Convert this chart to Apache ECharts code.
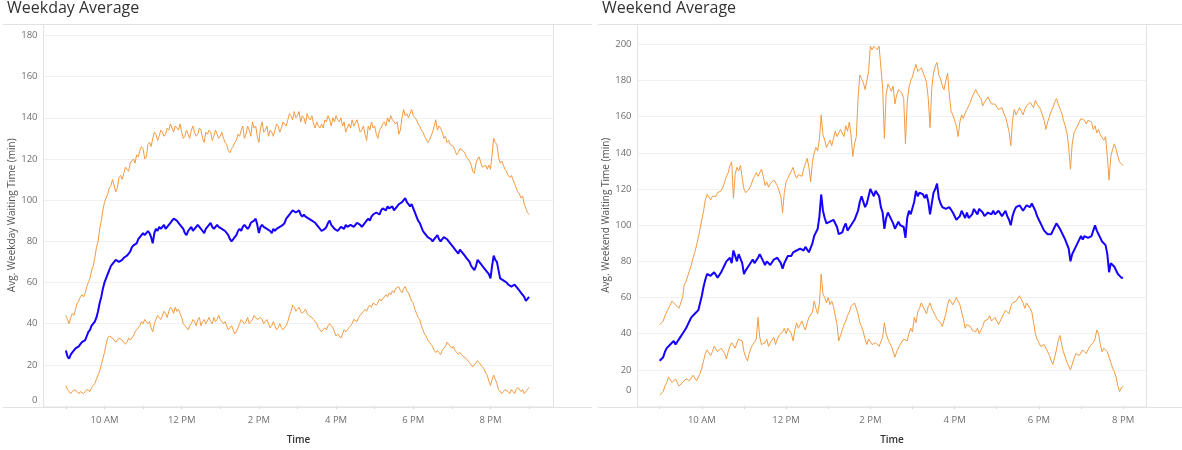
<!DOCTYPE html>
<html>
<head>
<meta charset="utf-8">
<script src="https://cdn.jsdelivr.net/npm/echarts@6/dist/echarts.min.js"></script>
<style>
  html, body { margin: 0; padding: 0; background: #ffffff; }
  #chart { width: 1182px; height: 450px; }
</style>
</head>
<body>
<div id="chart"></div>
<script>
// Average waiting time through the day, one value every 2.5 minutes
// (one row per hour). Mean in blue, upper and lower band in orange.
const stepMinutes = 2.5;
const weekdayStartHour = 9;   // 9:00 AM .. 9:00 PM
const weekendStartHour = 9;   // 9:00 AM .. 8:00 PM

const weekdayUpper = [
  44, 42, 40, 43, 45, 44, 47, 50, 51, 53, 54, 53, 55, 58, 60, 62, 66, 68, 72, 77, 80, 86, 90, 95,
  99, 101, 103, 106, 107, 110, 110, 104, 106, 111, 112, 110, 113, 116, 115, 114, 118, 119, 120, 118, 122, 121, 124, 126,
  125, 120, 121, 127, 128, 126, 130, 133, 132, 129, 131, 134, 133, 131, 132, 135, 134, 137, 135, 133, 136, 135, 134, 137,
  133, 130, 131, 134, 132, 130, 134, 136, 133, 131, 132, 135, 134, 130, 128, 133, 132, 134, 133, 129, 131, 134, 132, 130,
  131, 133, 130, 128, 127, 124, 123, 125, 126, 128, 129, 132, 131, 134, 136, 130, 132, 136, 134, 131, 138, 135, 136, 131,
  128, 135, 138, 133, 134, 136, 131, 134, 133, 131, 134, 137, 136, 133, 135, 138, 138, 136, 139, 142, 141, 139, 143, 140,
  141, 143, 138, 141, 140, 137, 142, 140, 139, 141, 137, 135, 138, 136, 135, 137, 135, 139, 138, 141, 139, 136, 140, 138,
  141, 139, 138, 140, 136, 138, 133, 135, 137, 135, 139, 136, 136, 139, 136, 133, 134, 136, 132, 129, 136, 134, 138, 135,
  136, 132, 130, 134, 135, 137, 138, 136, 140, 138, 141, 139, 139, 137, 138, 132, 134, 140, 144, 141, 142, 140, 142, 144,
  141, 140, 139, 137, 136, 134, 133, 131, 131, 128, 129, 131, 133, 136, 139, 134, 136, 135, 133, 130, 131, 128, 129, 127,
  127, 126, 124, 122, 123, 125, 125, 124, 123, 121, 121, 119, 117, 114, 113, 118, 120, 121, 118, 116, 116, 117, 115, 117,
  115, 122, 130, 128, 127, 121, 118, 119, 117, 115, 114, 112, 111, 112, 110, 108, 106, 104, 103, 101, 102, 98, 96, 94,
  93
];
const weekdayMean = [
  27, 24, 23, 25, 26, 27, 28, 28, 29, 30, 31, 31, 32, 34, 36, 37, 39, 40, 41, 43, 46, 50, 53, 57,
  60, 62, 64, 66, 68, 69, 70, 71, 71, 70, 70, 71, 72, 72, 73, 74, 75, 77, 78, 78, 79, 81, 82, 83,
  84, 83, 83, 85, 84, 82, 79, 84, 86, 85, 87, 86, 87, 88, 86, 87, 88, 89, 90, 91, 91, 90, 89, 88,
  88, 86, 84, 83, 85, 86, 87, 85, 86, 87, 88, 87, 86, 85, 84, 86, 87, 88, 89, 87, 86, 87, 88, 87,
  87, 86, 86, 85, 85, 83, 81, 80, 80, 82, 83, 85, 86, 85, 87, 88, 88, 86, 87, 89, 89, 90, 91, 88,
  84, 87, 88, 87, 87, 86, 86, 85, 84, 86, 85, 86, 86, 87, 87, 88, 89, 91, 92, 93, 94, 95, 95, 94,
  94, 95, 93, 92, 93, 92, 92, 91, 91, 90, 90, 89, 88, 87, 86, 85, 85, 86, 87, 89, 90, 88, 87, 86,
  86, 85, 86, 87, 87, 86, 88, 87, 87, 88, 88, 87, 88, 89, 89, 88, 87, 88, 88, 90, 91, 90, 92, 93,
  93, 94, 94, 93, 95, 96, 96, 95, 97, 96, 96, 97, 95, 96, 97, 98, 98, 99, 100, 101, 99, 98, 97, 98,
  96, 94, 92, 90, 89, 87, 85, 84, 83, 82, 82, 81, 80, 81, 82, 83, 81, 80, 81, 82, 82, 81, 80, 79,
  78, 77, 76, 75, 74, 76, 75, 74, 73, 72, 71, 70, 68, 67, 66, 68, 71, 70, 69, 68, 67, 66, 65, 64,
  62, 68, 73, 71, 70, 66, 62, 62, 61, 61, 60, 59, 59, 58, 58, 59, 58, 57, 56, 55, 55, 53, 51, 52,
  53
];
const weekdayLower = [
  10, 8, 7, 6, 7, 8, 8, 7, 6, 7, 7, 6, 7, 8, 8, 7, 9, 10, 11, 13, 15, 17, 20, 23,
  26, 30, 33, 34, 34, 33, 33, 31, 32, 33, 33, 32, 32, 30, 31, 33, 32, 33, 34, 36, 37, 38, 39, 41,
  40, 42, 42, 40, 41, 38, 36, 40, 42, 44, 43, 42, 44, 46, 45, 43, 46, 48, 47, 45, 48, 46, 47, 45,
  43, 40, 39, 38, 37, 39, 40, 42, 41, 39, 42, 43, 39, 41, 42, 40, 40, 43, 41, 40, 43, 41, 42, 44,
  42, 41, 40, 41, 39, 37, 38, 39, 37, 35, 36, 38, 40, 42, 42, 40, 41, 43, 40, 41, 42, 44, 44, 42,
  42, 43, 42, 40, 41, 42, 40, 38, 39, 41, 39, 37, 38, 40, 38, 37, 37, 39, 41, 44, 46, 49, 48, 46,
  47, 48, 46, 45, 46, 47, 45, 44, 44, 43, 42, 41, 40, 38, 37, 36, 36, 38, 37, 39, 40, 39, 38, 36,
  34, 35, 34, 33, 35, 37, 36, 37, 38, 39, 40, 42, 42, 41, 43, 44, 44, 46, 47, 46, 48, 49, 48, 50,
  50, 49, 50, 52, 51, 52, 53, 54, 53, 55, 54, 56, 55, 57, 57, 58, 56, 55, 57, 58, 56, 55, 53, 51,
  50, 47, 45, 43, 42, 39, 37, 35, 34, 32, 31, 30, 29, 27, 26, 27, 26, 25, 27, 28, 29, 31, 30, 29,
  28, 29, 27, 26, 25, 26, 25, 24, 24, 23, 22, 21, 20, 19, 20, 21, 22, 21, 21, 19, 18, 16, 15, 12,
  10, 13, 15, 13, 11, 8, 7, 6, 7, 8, 8, 7, 6, 8, 7, 6, 8, 9, 9, 7, 8, 6, 7, 8,
  9
];

const weekendUpper = [
  45, 44, 47, 50, 52, 54, 55, 58, 58, 56, 57, 54, 53, 60, 67, 69, 72, 75, 78, 82, 85, 89, 93, 98,
  103, 108, 114, 117, 116, 114, 116, 115, 116, 118, 117, 119, 121, 124, 127, 129, 133, 135, 115, 128, 132, 130, 133, 126,
  120, 118, 117, 120, 122, 125, 127, 129, 127, 128, 131, 127, 122, 124, 121, 123, 122, 125, 124, 122, 122, 116, 107, 118,
  124, 126, 127, 130, 132, 128, 126, 128, 129, 127, 131, 134, 137, 132, 124, 135, 140, 143, 141, 148, 161, 150, 147, 143,
  145, 147, 144, 148, 152, 149, 150, 153, 151, 149, 155, 152, 157, 150, 138, 145, 149, 170, 183, 181, 179, 175, 174, 185,
  199, 197, 199, 200, 197, 199, 200, 176, 148, 172, 178, 176, 174, 177, 167, 172, 175, 176, 173, 170, 145, 168, 176, 180,
  182, 186, 189, 185, 184, 187, 186, 182, 179, 170, 154, 176, 184, 188, 190, 183, 181, 177, 175, 180, 184, 172, 163, 161,
  160, 155, 149, 157, 161, 159, 162, 164, 166, 168, 171, 172, 175, 173, 174, 170, 166, 168, 169, 171, 170, 167, 168, 167,
  166, 164, 163, 165, 162, 160, 159, 152, 144, 158, 164, 161, 163, 165, 163, 161, 164, 166, 166, 168, 167, 165, 169, 167,
  166, 164, 163, 158, 153, 157, 160, 163, 165, 168, 170, 167, 168, 162, 158, 155, 151, 143, 131, 145, 151, 153, 154, 157,
  159, 160, 158, 156, 158, 159, 157, 153, 155, 151, 153, 150, 151, 147, 149, 138, 125, 138, 142, 145, 142, 138, 135, 134,
  133
];
const weekendMean = [
  25, 26, 27, 30, 32, 33, 34, 35, 36, 34, 35, 37, 38, 40, 41, 43, 45, 47, 49, 50, 51, 52, 53, 57,
  61, 66, 70, 73, 73, 72, 72, 74, 73, 71, 72, 74, 76, 78, 80, 81, 82, 79, 86, 83, 80, 84, 85, 79,
  73, 75, 76, 78, 79, 81, 79, 80, 82, 84, 83, 80, 78, 80, 79, 78, 79, 81, 80, 82, 81, 79, 76, 79,
  81, 83, 84, 83, 85, 86, 86, 85, 87, 86, 86, 88, 87, 85, 86, 90, 94, 96, 98, 105, 117, 108, 104, 101,
  100, 102, 101, 103, 104, 99, 95, 94, 96, 99, 101, 97, 98, 100, 101, 103, 104, 108, 113, 116, 115, 110, 112, 116,
  120, 118, 116, 119, 118, 116, 110, 107, 98, 104, 107, 105, 104, 101, 98, 100, 102, 100, 101, 99, 93, 104, 108, 106,
  107, 113, 119, 116, 118, 119, 117, 115, 117, 113, 106, 112, 118, 120, 123, 115, 112, 110, 111, 109, 108, 110, 109, 107,
  106, 103, 102, 105, 108, 106, 104, 107, 104, 105, 106, 109, 108, 106, 109, 108, 107, 105, 104, 107, 108, 106, 108, 106,
  105, 108, 107, 105, 106, 108, 105, 103, 100, 105, 108, 110, 109, 111, 110, 108, 109, 111, 111, 110, 112, 111, 108, 105,
  103, 101, 100, 97, 98, 95, 94, 95, 97, 99, 101, 100, 98, 96, 94, 92, 91, 87, 80, 84, 86, 88, 89, 92,
  94, 92, 94, 95, 93, 92, 94, 97, 100, 97, 95, 93, 91, 90, 89, 84, 74, 79, 78, 77, 76, 73, 72, 71,
  71
];
const weekendLower = [
  6, 7, 8, 11, 13, 16, 15, 13, 14, 15, 13, 11, 10, 13, 14, 15, 16, 14, 15, 17, 16, 14, 16, 18,
  21, 25, 29, 31, 31, 28, 30, 33, 32, 30, 29, 32, 31, 29, 26, 30, 33, 35, 34, 32, 35, 37, 38, 36,
  30, 27, 25, 29, 32, 34, 35, 37, 49, 38, 34, 33, 35, 37, 33, 35, 36, 38, 34, 37, 39, 38, 41, 43,
  40, 43, 44, 40, 36, 42, 46, 43, 45, 47, 44, 42, 46, 49, 48, 52, 58, 54, 51, 57, 73, 62, 60, 57,
  60, 56, 58, 55, 54, 45, 36, 39, 42, 45, 47, 50, 52, 55, 54, 57, 56, 51, 46, 44, 41, 37, 34, 37,
  36, 34, 33, 35, 36, 33, 34, 38, 46, 40, 37, 35, 33, 30, 27, 30, 32, 34, 35, 37, 38, 36, 40, 43,
  41, 49, 46, 52, 54, 57, 55, 53, 51, 55, 57, 54, 52, 50, 48, 47, 46, 44, 45, 51, 56, 59, 58, 56,
  57, 60, 59, 56, 55, 48, 43, 45, 46, 44, 42, 41, 41, 43, 40, 42, 44, 47, 46, 48, 50, 47, 46, 49,
  48, 45, 46, 49, 51, 53, 53, 51, 55, 57, 56, 58, 58, 61, 60, 57, 54, 57, 56, 54, 52, 46, 40, 37,
  35, 33, 32, 34, 33, 30, 28, 25, 23, 27, 31, 36, 39, 34, 30, 27, 24, 22, 20, 23, 26, 29, 30, 28,
  28, 31, 32, 29, 30, 33, 32, 35, 37, 42, 40, 34, 30, 32, 33, 30, 27, 24, 21, 19, 16, 11, 8, 10,
  11
];

// Axis ticks
const weekdayTickHours = [9, 10, 11, 12, 13, 14, 15, 16, 17, 18, 19, 20, 21];
const weekendTickHours = [9, 10, 11, 12, 13, 14, 15, 16, 17, 18, 19, 20];
const timeLabelHours = [10, 12, 14, 16, 18, 20];
const weekdayValueTicks = [0, 20, 40, 60, 80, 100, 120, 140, 160, 180];
const weekendValueTicks = [0, 20, 40, 60, 80, 100, 120, 140, 160, 180, 200];

const FONT = "'Open Sans', 'Noto Sans', sans-serif";
const ORANGE = '#f39b41';
const BLUE = '#1500ff';
const FRAME = '#e2e2e2';
const GRIDLINE = '#f0f0f0';

function toPairs(values, startHour) {
  return values.map((v, i) => [startHour + (i * stepMinutes) / 60, v]);
}

function clockLabel(h) {
  const hr = h % 12 === 0 ? 12 : h % 12;
  return hr + (h < 12 ? ' AM' : ' PM');
}

// panel geometry (pixels)
const panels = [
  { left: 43.5, right: 553.5, lineFrom: 3, lineTo: 592 },
  { left: 637.5, right: 1146.5, lineFrom: 598, lineTo: 1182 }
];
const plotTop = 24.5;
const plotBottom = 407.5;

function frameLines() {
  const els = [];
  panels.forEach(p => {
    els.push({ type: 'line', shape: { x1: p.lineFrom, y1: plotTop, x2: p.lineTo, y2: plotTop } });
    els.push({ type: 'line', shape: { x1: p.lineFrom, y1: plotBottom, x2: p.lineTo, y2: plotBottom } });
    els.push({ type: 'line', shape: { x1: p.left, y1: plotTop, x2: p.left, y2: plotBottom } });
    els.push({ type: 'line', shape: { x1: p.right, y1: plotTop, x2: p.right, y2: plotBottom } });
  });
  return els.map(e => Object.assign(e, { silent: true, z: 1, style: { stroke: FRAME, lineWidth: 1 } }));
}

function xAxisFor(gridIndex, min, max, tickHours) {
  return {
    type: 'value', gridIndex, min, max,
    axisLine: { show: false },
    axisTick: { show: true, customValues: tickHours, length: 3, lineStyle: { color: '#d4d4d4' } },
    axisLabel: {
      customValues: timeLabelHours, formatter: clockLabel,
      color: '#6f6f6f', fontSize: 9.5, fontFamily: FONT, margin: 9
    },
    splitLine: { show: false },
    name: 'Time', nameLocation: 'middle', nameGap: 29,
    nameTextStyle: { color: '#333333', fontSize: 10, fontWeight: 600, fontFamily: FONT }
  };
}

function yAxisFor(gridIndex, max, ticks, title, zeroLift) {
  return {
    type: 'value', gridIndex, min: 0, max, interval: 20,
    axisLine: { show: false },
    axisTick: { show: false },
    axisLabel: {
      customValues: ticks, color: '#6f6f6f', fontSize: 9.5, fontFamily: FONT, margin: 6,
      formatter: v => (v === 0 ? '{z|0}' : String(v)),
      rich: { z: { color: '#6f6f6f', fontSize: 9.5, fontFamily: FONT, padding: [0, 0, zeroLift * 2, 0] } }
    },
    splitLine: { show: true, lineStyle: { color: GRIDLINE, width: 1 } },
    name: title, nameLocation: 'middle', nameGap: 25, nameRotate: 90,
    nameTextStyle: { color: '#555555', fontSize: 10, fontFamily: FONT }
  };
}

function lineSeries(name, values, startHour, axisIndex, color, width, z) {
  return {
    name, type: 'line', xAxisIndex: axisIndex, yAxisIndex: axisIndex,
    data: toPairs(values, startHour),
    showSymbol: false, symbol: 'none', z,
    lineStyle: { color, width },
    emphasis: { disabled: true }
  };
}

const chart = echarts.init(document.getElementById('chart'), null, { renderer: 'canvas' });
chart.setOption({
  animation: false,
  backgroundColor: '#ffffff',
  title: [
    { text: 'Weekday Average', left: 7, top: 0, padding: 0,
      textStyle: { color: '#333333', fontSize: 16, fontWeight: 'normal', fontFamily: FONT } },
    { text: 'Weekend Average', left: 602, top: 0, padding: 0,
      textStyle: { color: '#333333', fontSize: 16, fontWeight: 'normal', fontFamily: FONT } }
  ],
  grid: panels.map(p => ({
    left: p.left, top: plotTop, width: p.right - p.left, height: plotBottom - plotTop, containLabel: false
  })),
  xAxis: [
    xAxisFor(0, 8.42, 21.633, weekdayTickHours),
    xAxisFor(1, 8.473, 20.555, weekendTickHours)
  ],
  yAxis: [
    yAxisFor(0, 185.3, weekdayValueTicks, 'Avg. Weekday Waiting Time (min)', 6),
    yAxisFor(1, 211, weekendValueTicks, 'Avg. Weekend Waiting Time (min)', 16)
  ],
  graphic: { elements: frameLines() },
  series: [
    lineSeries('Weekday upper', weekdayUpper, weekdayStartHour, 0, ORANGE, 1, 2),
    lineSeries('Weekday lower', weekdayLower, weekdayStartHour, 0, ORANGE, 1, 2),
    lineSeries('Weekday mean', weekdayMean, weekdayStartHour, 0, BLUE, 2, 3),
    lineSeries('Weekend upper', weekendUpper, weekendStartHour, 1, ORANGE, 1, 2),
    lineSeries('Weekend lower', weekendLower, weekendStartHour, 1, ORANGE, 1, 2),
    lineSeries('Weekend mean', weekendMean, weekendStartHour, 1, BLUE, 2, 3)
  ]
});
</script>
</body>
</html>
